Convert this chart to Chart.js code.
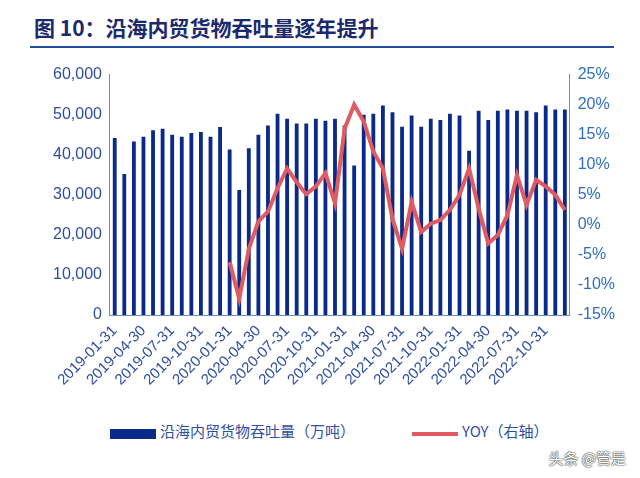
<!DOCTYPE html>
<html>
<head>
<meta charset="utf-8">
<script src="https://cdn.jsdelivr.net/npm/chart.js@4/dist/chart.umd.min.js"></script>
<style>
  body { margin: 0; background: #fff; font-family: "Noto Sans CJK SC", sans-serif; }
  .title { position: absolute; left: 34px; top: 12px; font-size: 21px; font-weight: bold; color: #1a2a6c; }
  .rule { position: absolute; left: 30px; top: 46px; width: 584px; height: 2px; background: #1f4e9e; }
  .wrap { position: absolute; left: 20px; top: 62px; width: 600px; height: 330px; }
  .legend { position: absolute; top: 420px; left: 0; width: 640px; font-size: 15px; color: #2f4f9f; }
  .mark { position: absolute; top: 429px; }
  .wm { position: absolute; right: 14px; top: 447px; font-size: 15px; color: #fff; text-shadow: 0 0 2px #333, 0 0 1px #000; }
</style>
</head>
<body>
<div class="title">图 10：沿海内贸货物吞吐量逐年提升</div>
<div class="rule"></div>
<div class="wrap"><canvas id="c"></canvas></div>
<div class="mark" style="left:110px;width:46px;height:10px;background:#0a2a8a"></div>
<span class="legend" style="left:160px;top:420px">沿海内贸货物吞吐量（万吨）</span>
<div class="mark" style="left:412px;width:46px;height:4px;top:432px;background:#e05a62"></div>
<span class="legend" style="left:462px;top:420px">YOY（右轴）</span>
<div class="wm">头条 @管是</div>
<script>
const months = [];
for (let y = 2019; y <= 2022; y++) {
  for (let m = 1; m <= 12; m++) {
    const last = new Date(y, m, 0).getDate();
    months.push(y + '-' + String(m).padStart(2, '0') + '-' + last);
  }
}
const throughput = [
  44.2, 35.2, 43.3, 44.5, 46.1, 46.5, 45.0, 44.5, 45.4, 45.7, 44.5, 46.9,
  41.3, 31.2, 41.6, 45.0, 47.3, 50.2, 49.0, 47.8, 47.8, 49.0, 48.5, 49.0,
  47.3, 37.3, 50.0, 50.2, 52.3, 50.6, 47.0, 49.8, 47.0, 49.0, 48.7, 50.2,
  49.8, 41.0, 51.0, 48.7, 51.0, 51.3, 51.0, 51.0, 50.6, 52.3, 51.3, 51.3
].map((v) => v * 1000);
const yoy = [
  null, null, null, null, null, null, null, null, null, null, null, null,
  -6.2, -12.3, -4.0, 0.6, 2.2, 6.1, 9.4, 7.1, 5.1, 6.4, 8.6, 3.6,
  16.0, 20.0, 17.2, 12.2, 9.4, 1.0, -4.0, 3.8, -1.2, 0.2, 0.8, 2.5,
  5.0, 9.4, 2.7, -3.1, -1.7, 1.6, 8.3, 3.3, 7.5, 6.4, 5.0, 2.5
];

new Chart(document.getElementById('c'), {
  data: {
    labels: months,
    datasets: [
      { type: 'line', data: yoy, yAxisID: 'y1', borderColor: '#e05a62', borderWidth: 4,
        pointRadius: 0, tension: 0, spanGaps: false },
      { type: 'bar', data: throughput, yAxisID: 'y', backgroundColor: '#0a2a8a',
        barPercentage: 0.4, categoryPercentage: 1 }
    ]
  },
  options: {
    responsive: true, maintainAspectRatio: false, animation: false,
    layout: { padding: { left: 30, right: 2, top: 4 } },
    plugins: { legend: { display: false }, tooltip: { enabled: false } },
    scales: {
      x: {
        grid: { display: false, drawTicks: true, tickLength: 4 },
        border: { color: '#6a8fc0' },
        ticks: {
          autoSkip: false, maxRotation: 45, minRotation: 45, color: '#2f4f9f',
          font: { size: 15, family: 'Arial' },
          callback: (v, i) => (i % 3 === 0 ? months[i] : '')
        }
      },
      y: {
        position: 'left', min: 0, max: 60000,
        grid: { display: false, tickLength: 5 },
        border: { color: '#6a8fc0' },
        ticks: { stepSize: 10000, color: '#2f4f9f', font: { size: 16, family: 'Arial' },
          callback: (v) => v.toLocaleString('en-US') }
      },
      y1: {
        position: 'right', min: -15, max: 25,
        grid: { display: false, tickLength: 5 },
        border: { color: '#6a8fc0' },
        ticks: { stepSize: 5, color: '#2f6fc0', font: { size: 16, family: 'Arial' },
          callback: (v) => v + '%' }
      }
    }
  }
});
</script>
</body>
</html>
